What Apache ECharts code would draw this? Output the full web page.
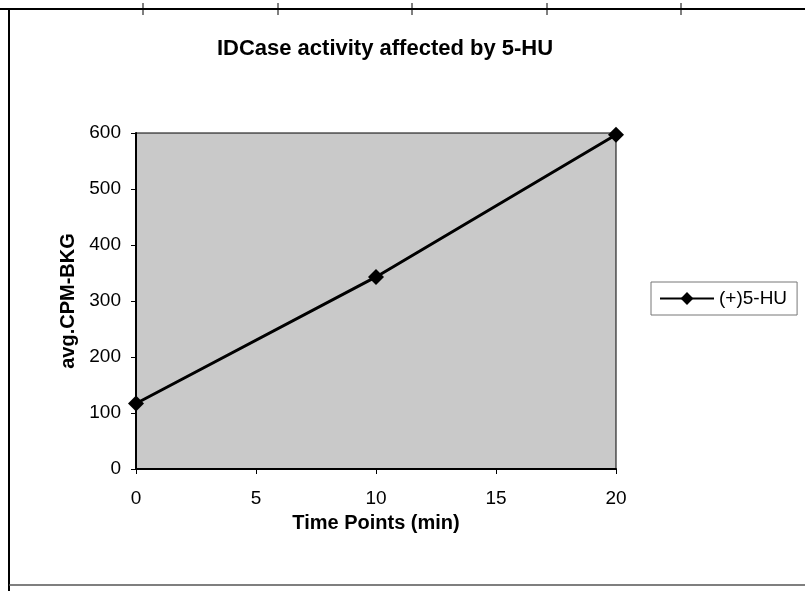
<!DOCTYPE html>
<html>
<head>
<meta charset="utf-8">
<script src="https://cdn.jsdelivr.net/npm/echarts@6/dist/echarts.min.js"></script>
<style>
  html, body { margin: 0; padding: 0; background: #fff; }
  #main { width: 805px; height: 591px; }
</style>
</head>
<body>
<div id="main"></div>
<script>
// data
var timePoints = [0, 10, 20];
var cpmValues = [117, 343, 597];
var seriesName = '(+)5-HU';
var titleText = 'IDCase activity affected by 5-HU';

var chart = echarts.init(document.getElementById('main'));

var pairs = timePoints.map(function (t, i) { return [t, cpmValues[i]]; });
var font = 'Liberation Sans, Arial, sans-serif';

// spreadsheet-ish frame around the chart
var colLines = [143, 278, 412, 547, 681];
var frame = [
  { type: 'line', shape: { x1: 0, y1: 9, x2: 805, y2: 9 }, style: { stroke: '#000', lineWidth: 2 } },
  { type: 'line', shape: { x1: 9, y1: 9, x2: 9, y2: 591 }, style: { stroke: '#000', lineWidth: 2 } },
  { type: 'line', shape: { x1: 9, y1: 585, x2: 805, y2: 585 }, style: { stroke: '#555', lineWidth: 1.5 } }
];
colLines.forEach(function (x) {
  frame.push({ type: 'line', shape: { x1: x, y1: 3, x2: x, y2: 15 }, style: { stroke: '#000', lineWidth: 1 } });
});

var option = {
  backgroundColor: '#fff',
  animation: false,
  title: {
    text: titleText,
    left: 380,
    top: 33,
    textAlign: 'center',
    textStyle: { fontFamily: font, fontSize: 22, fontWeight: 'bold', color: '#000' }
  },
  legend: {
    data: [seriesName],
    orient: 'vertical',
    left: 651,
    top: 282,
    padding: [7, 10, 7, 8],
    itemWidth: 54,
    itemHeight: 16,
    itemGap: 0,
    borderColor: '#777',
    borderWidth: 1,
    textStyle: { fontFamily: font, fontSize: 19, color: '#000' }
  },
  grid: {
    left: 136,
    top: 133,
    width: 480,
    height: 336,
    show: true,
    backgroundColor: '#c9c9c9',
    borderColor: '#000',
    borderWidth: 1
  },
  xAxis: {
    type: 'value',
    min: 0,
    max: 20,
    interval: 5,
    name: 'Time Points (min)',
    nameLocation: 'middle',
    nameGap: 44,
    nameTextStyle: { fontFamily: font, fontSize: 20, fontWeight: 'bold', color: '#000' },
    axisLine: { lineStyle: { color: '#000', width: 2 } },
    axisTick: { show: true, length: 5, lineStyle: { color: '#000' } },
    axisLabel: { fontFamily: font, fontSize: 19, color: '#000', margin: 20 },
    splitLine: { show: false }
  },
  yAxis: {
    type: 'value',
    min: 0,
    max: 600,
    interval: 100,
    name: 'avg.CPM-BKG',
    nameLocation: 'middle',
    nameGap: 56,
    nameRotate: 90,
    nameTextStyle: { fontFamily: font, fontSize: 20, fontWeight: 'bold', color: '#000' },
    axisLine: { show: true, lineStyle: { color: '#000', width: 2 } },
    axisTick: { show: true, length: 5, lineStyle: { color: '#000' } },
    axisLabel: { fontFamily: font, fontSize: 19, color: '#000', margin: 15 },
    splitLine: { show: false }
  },
  series: [{
    name: seriesName,
    type: 'line',
    data: pairs,
    symbol: 'diamond',
    symbolSize: 16,
    lineStyle: { color: '#000', width: 3 },
    itemStyle: { color: '#000' }
  }],
  graphic: frame
};

chart.setOption(option);
</script>
</body>
</html>
